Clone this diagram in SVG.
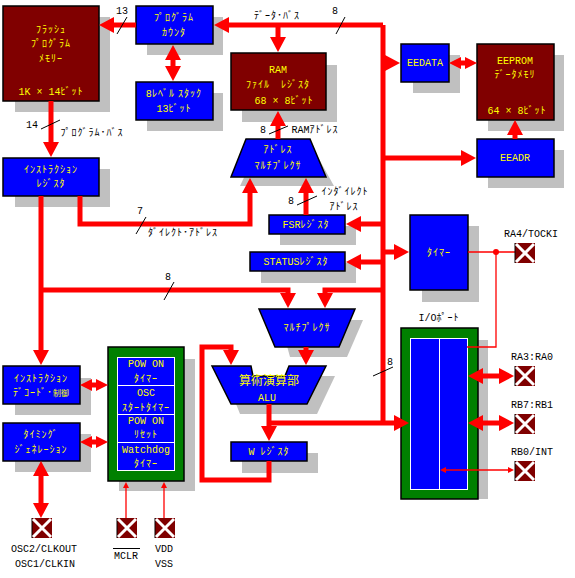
<svg xmlns="http://www.w3.org/2000/svg" width="575" height="578" viewBox="0 0 575 578">
<style>
text{font-family:"Liberation Mono","Noto Sans CJK JP",monospace;font-size:10px;text-anchor:middle}
.y{fill:#ff0}
.h{font-family:"Noto Sans CJK JP",sans-serif;font-size:10px;letter-spacing:1px}
.j{font-family:"Noto Sans CJK JP",sans-serif;font-size:8px;letter-spacing:0}
.u{font-family:"Noto Sans CJK JP",sans-serif;font-size:12px}
.s{fill:#c0c0c0}
.b{fill:#00f;stroke:#000;stroke-width:1.5}
.m{fill:#800000;stroke:#000;stroke-width:1.5}
.g{fill:#008000;stroke:#000;stroke-width:1.5}
.i{fill:#00f;stroke:#fff;stroke-width:1}
.w{fill:none;stroke:#f00;stroke-width:5}
.t{fill:none;stroke:#f00;stroke-width:1.3}
.a1{marker-end:url(#a)}
.d{marker-start:url(#a);marker-end:url(#a)}
.q{marker-start:url(#b);marker-end:url(#b)}
.e{marker-end:url(#c)}
.f{marker-start:url(#c);marker-end:url(#c)}
.n{stroke:#000;stroke-width:1;fill:none}
</style>
<defs>
<marker id="a" markerUnits="userSpaceOnUse" markerWidth="15" markerHeight="16" refX="1" refY="8" orient="auto-start-reverse"><path d="M0 0L15 8L0 16Z" fill="#f00"/></marker>
<marker id="b" markerUnits="userSpaceOnUse" markerWidth="12" markerHeight="12" refX="1" refY="6" orient="auto-start-reverse"><path d="M0 0L12 6L0 12Z" fill="#f00"/></marker>
<marker id="c" markerUnits="userSpaceOnUse" markerWidth="6" markerHeight="6" refX="1" refY="3" orient="auto-start-reverse"><path d="M0 0L6 3L0 6Z" fill="#f00"/></marker>
<g id="pin"><rect x="0" y="0" width="20" height="20" fill="#800000"/><path d="M0 0V20" stroke="#000" stroke-width="1"/><path d="M1 1L19 19M19 1L1 19" stroke="#fff" stroke-width="3"/></g>
</defs>
<rect width="575" height="578" fill="#fff"/>

<g id="shadows">
<rect class="s" x="15" y="17" width="95" height="95"/>
<rect class="s" x="147" y="17" width="76" height="38"/>
<rect class="s" x="147" y="93" width="76" height="38"/>
<rect class="s" x="15" y="169" width="95" height="38"/>
<rect class="s" x="242" y="65" width="95" height="57"/>
<rect class="s" x="413" y="55" width="47" height="38"/>
<rect class="s" x="488" y="55" width="76" height="76"/>
<rect class="s" x="488" y="150" width="76" height="38"/>
<path class="s" d="M257 150H314L334 186H240Z"/>
<rect class="s" x="280" y="226" width="76" height="19"/>
<rect class="s" x="261" y="263" width="95" height="20"/>
<path class="s" d="M280 320H363L347 357H290Z"/>
<path class="s" d="M225 376H335L317 414H240Z"/>
<rect class="s" x="242" y="453" width="76" height="20"/>
<rect class="s" x="422" y="226" width="57" height="76"/>
<rect class="s" x="410" y="340" width="78" height="159"/>
<rect class="s" x="15" y="378" width="76" height="37"/>
<rect class="s" x="15" y="434" width="76" height="38"/>
<rect class="s" x="119" y="359" width="76" height="132"/>
</g>

<g id="flash"><rect class="m" x="3" y="6" width="96" height="95"/>
<text class="y h" x="51" y="33">ﾌﾗｯｼｭ</text><text class="y h" x="51" y="47">ﾌﾟﾛｸﾞﾗﾑ</text><text class="y h" x="51" y="62">ﾒﾓﾘｰ</text><text class="y" x="51" y="95">1K × 14<tspan class="h">ﾋﾞｯﾄ</tspan></text></g>
<g id="pc"><rect class="b" x="136" y="6" width="77" height="38"/>
<text class="y h" x="174" y="21">ﾌﾟﾛｸﾞﾗﾑ</text><text class="y h" x="174" y="36">ｶｳﾝﾀ</text></g>
<g id="stack"><rect class="b" x="136" y="82" width="77" height="38"/>
<text class="y" x="174" y="97">8<tspan class="h">ﾚﾍﾞﾙ ｽﾀｯｸ</tspan></text><text class="y" x="174" y="112">13<tspan class="h">ﾋﾞｯﾄ</tspan></text></g>
<g id="ir"><rect class="b" x="3" y="158" width="96" height="38"/>
<text class="y h" x="51" y="173">ｲﾝｽﾄﾗｸｼｮﾝ</text><text class="y h" x="51" y="187">ﾚｼﾞｽﾀ</text></g>
<g id="ram"><rect class="m" x="231" y="53" width="95" height="57"/>
<text class="y" x="278" y="73">RAM</text><text class="y h" x="278" y="88">ﾌｧｲﾙ　ﾚｼﾞｽﾀ</text><text class="y" x="284" y="104">68 × 8<tspan class="h">ﾋﾞｯﾄ</tspan></text></g>
<g id="eedata"><rect class="b" x="401" y="44" width="48" height="38"/><text class="y" x="425" y="66">EEDATA</text></g>
<g id="eeprom"><rect class="m" x="477" y="44" width="77" height="76"/>
<text class="y" x="515" y="64">EEPROM</text><text class="y h" x="515" y="78">ﾃﾞｰﾀﾒﾓﾘ</text><text class="y" x="517" y="114">64 × 8<tspan class="h">ﾋﾞｯﾄ</tspan></text></g>
<g id="eeadr"><rect class="b" x="477" y="139" width="77" height="38"/><text class="y" x="515" y="161">EEADR</text></g>
<g id="addrmux"><path class="b" d="M246 139H310L326 177H231Z"/>
<text class="y h" x="278" y="153">ｱﾄﾞﾚｽ</text><text class="y h" x="278" y="169">ﾏﾙﾁﾌﾟﾚｸｻ</text></g>
<g id="fsr"><rect class="b" x="269" y="215" width="76" height="19"/><text class="y" x="306" y="228">FSR<tspan class="h">ﾚｼﾞｽﾀ</tspan></text></g>
<g id="status"><rect class="b" x="250" y="252" width="95" height="19"/><text class="y" x="296" y="265">STATUS<tspan class="h">ﾚｼﾞｽﾀ</tspan></text></g>
<g id="mux"><path class="b" d="M259 309H355L339 347H275Z"/><text class="y h" x="307" y="331">ﾏﾙﾁﾌﾟﾚｸｻ</text></g>
<g id="alu"><path class="b" d="M212 366H251L253 376H285L289 366H326L307 404H231Z"/>
<text class="y u" x="269" y="385">算術演算部</text><text class="y" x="267" y="401">ALU</text></g>
<g id="w"><rect class="b" x="231" y="442" width="76" height="19"/><text class="y" x="269" y="455">W <tspan class="h">ﾚｼﾞｽﾀ</tspan></text></g>
<g id="timer"><rect class="b" x="410" y="215" width="58" height="75"/><text class="y h" x="439" y="256">ﾀｲﾏｰ</text></g>
<g id="ioport"><rect class="g" x="401" y="328" width="77" height="171"/>
<rect class="i" x="410.500" y="338.500" width="57" height="151"/><path d="M439.500 338V489" stroke="#fff" stroke-width="1"/></g>
<g id="decode"><rect class="b" x="3" y="366" width="77" height="38"/>
<text class="y h" x="41" y="382">ｲﾝｽﾄﾗｸｼｮﾝ</text><text class="y h" x="41" y="396">ﾃﾞｺｰﾄﾞ･<tspan class="j">制御</tspan></text></g>
<g id="timing"><rect class="b" x="3" y="423" width="77" height="38"/>
<text class="y h" x="41" y="438">ﾀｲﾐﾝｸﾞ</text><text class="y h" x="41" y="453">ｼﾞｪﾈﾚｰｼｮﾝ</text></g>
<g id="power"><rect class="g" x="108" y="347" width="76" height="134"/>
<rect class="i" x="117.500" y="357.500" width="57" height="113"/>
<path d="M117 385.500H175M117 414.500H175M117 442.500H175" stroke="#fff" stroke-width="1"/>
<text class="y" x="146" y="367">POW ON</text><text class="y h" x="146" y="382">ﾀｲﾏｰ</text>
<text class="y" x="146" y="396">OSC</text><text class="y h" x="146" y="411">ｽﾀｰﾄﾀｲﾏｰ</text>
<text class="y" x="146" y="424">POW ON</text><text class="y h" x="146" y="438">ﾘｾｯﾄ</text>
<text class="y" x="146" y="453">Watchdog</text><text class="y h" x="146" y="467">ﾀｲﾏｰ</text></g>

<g id="connectors">
<path class="w a1" d="M136 25H113"/>
<path class="w" d="M383 422V25"/>
<path class="w a1" d="M383 25H228"/>
<path class="w a1" d="M278 25V38"/>
<path class="w d" d="M173 59V67"/>
<path class="w a1" d="M51 101V143"/>
<path class="w a1" d="M80 196V224H250V192"/>
<path class="w a1" d="M41 196V351"/>
<path class="w a1" d="M41 290H288V294"/>
<path class="w a1" d="M383 290H325V294"/>
<path class="w a1" d="M306 347V351"/>
<path class="w a1" d="M269 461V480H202V347H231V351"/>
<path class="w a1" d="M269 404V427"/>
<path class="w a1" d="M269 423H395"/>
<path class="w a1" d="M383 63H386"/>
<path class="w a1" d="M383 158H462"/>
<path class="w q" d="M460 63H466"/>
<path class="w a1" d="M515 139V134"/>
<path class="w a1" d="M278 139V125"/>
<path class="w a1" d="M306 215V192"/>
<path class="w a1" d="M383 224H360"/>
<path class="w a1" d="M383 262H360"/>
<path class="w a1" d="M383 252H395"/>
<path class="w q" d="M91 385H97"/>
<path class="w q" d="M91 442H97"/>
<path class="w d" d="M41 475V504"/>
<path class="t e" d="M126 518V487"/>
<path class="t e" d="M164 518V487"/>
<path class="t" d="M468 252H515M496 252V347H467"/>
<circle cx="496" cy="252" r="3" fill="#f00"/>
<path class="w d" d="M482 376H500"/>
<path class="w d" d="M482 423H500"/>
<path class="t f" d="M445 470H509"/>
</g>

<g id="pin-ra4"><use href="#pin" x="515" y="243"/><text x="531" y="237">RA4/TOCKI</text></g>
<g id="pin-ra3"><use href="#pin" x="515" y="366"/><text x="532" y="360">RA3:RA0</text></g>
<g id="pin-rb7"><use href="#pin" x="515" y="414"/><text x="532" y="408">RB7:RB1</text></g>
<g id="pin-rb0"><use href="#pin" x="515" y="461"/><text x="532" y="455">RB0/INT</text></g>
<g id="pin-osc"><use href="#pin" x="32" y="518"/><text x="44" y="552">OSC2/CLKOUT</text><text x="45" y="567">OSC1/CLKIN</text></g>
<g id="pin-mclr"><use href="#pin" x="117" y="518"/><text x="126" y="559">MCLR</text><path class="n" d="M113 548.500H140"/></g>
<g id="pin-vdd"><use href="#pin" x="155" y="518"/><text x="164" y="552">VDD</text><text x="164" y="567">VSS</text></g>

<g id="labels">
<path class="n" d="M117 34L127 17M41 129L60 120M336 34L345 17M269 134L288 126M136 234L146 217M164 300L174 282M297 205L317 196M373 376L393 367"/>
<text x="122" y="14">13</text><text x="32" y="128">14</text><text x="335" y="14">8</text><text x="263" y="133">8</text><text x="140" y="214">7</text><text x="168" y="280">8</text><text x="291" y="204">8</text><text x="390" y="365">8</text>
<text class="h" x="92" y="136">ﾌﾟﾛｸﾞﾗﾑ･ﾊﾞｽ</text><text class="h" x="277" y="19">ﾃﾞｰﾀ･ﾊﾞｽ</text><text x="315" y="133">RAM<tspan class="h">ｱﾄﾞﾚｽ</tspan></text>
<text class="h" x="183" y="236">ﾀﾞｲﾚｸﾄ･ｱﾄﾞﾚｽ</text><text class="h" x="345" y="195">ｲﾝﾀﾞｲﾚｸﾄ</text><text class="h" x="344" y="210">ｱﾄﾞﾚｽ</text>
<text x="439" y="321">I/O<tspan class="h">ﾎﾟｰﾄ</tspan></text>
</g>
</svg>
